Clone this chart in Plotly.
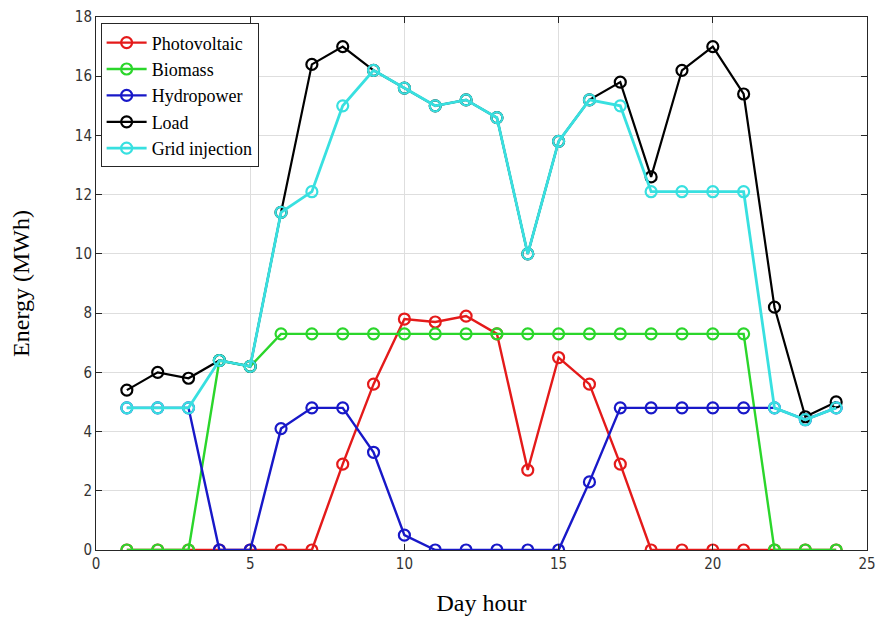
import plotly.graph_objects as go

hours = list(range(1, 25))
photovoltaic = [0, 0, 0, 0, 0, 0, 0, 2.9, 5.6, 7.8, 7.7, 7.9, 7.3, 2.7, 6.5, 5.6, 2.9, 0, 0, 0, 0, 0, 0, 0]
biomass = [0, 0, 0, 6.4, 6.2, 7.3, 7.3, 7.3, 7.3, 7.3, 7.3, 7.3, 7.3, 7.3, 7.3, 7.3, 7.3, 7.3, 7.3, 7.3, 7.3, 0, 0, 0]
hydropower = [4.8, 4.8, 4.8, 0, 0, 4.1, 4.8, 4.8, 3.3, 0.5, 0, 0, 0, 0, 0, 2.3, 4.8, 4.8, 4.8, 4.8, 4.8, 4.8, 4.4, 4.8]
load = [5.4, 6.0, 5.8, 6.4, 6.2, 11.4, 16.4, 17.0, 16.2, 15.6, 15.0, 15.2, 14.6, 10.0, 13.8, 15.2, 15.8, 12.6, 16.2, 17.0, 15.4, 8.2, 4.5, 5.0]
grid_injection = [4.8, 4.8, 4.8, 6.4, 6.2, 11.4, 12.1, 15.0, 16.2, 15.6, 15.0, 15.2, 14.6, 10.0, 13.8, 15.2, 15.0, 12.1, 12.1, 12.1, 12.1, 4.8, 4.4, 4.8]

series = [
    ("Photovoltaic", photovoltaic, "#e41a1a", 2.4),
    ("Biomass", biomass, "#2bd62b", 2.4),
    ("Hydropower", hydropower, "#1818c8", 2.4),
    ("Load", load, "#000000", 2.2),
    ("Grid injection", grid_injection, "#38e0e0", 2.8),
]

fig = go.Figure()
for name, vals, color, lw in series:
    fig.add_trace(go.Scatter(
        x=hours, y=vals, name=name, mode="lines+markers",
        line=dict(color=color, width=lw),
        marker=dict(symbol="circle-open", size=11, color=color, line=dict(width=2.2, color=color)),
    ))

axis_common = dict(
    showline=True, linecolor="#262626", linewidth=1, mirror="ticks",
    ticks="inside", ticklen=6, tickcolor="#262626",
    showgrid=True, gridcolor="#dedede", gridwidth=1, zeroline=False,
    tickfont=dict(family="DejaVu Sans Condensed, Liberation Sans Narrow, Arial Narrow", size=15, color="#333333"),
)

fig.update_layout(
    width=884, height=620,
    margin=dict(l=96, r=8, t=14, b=69),
    paper_bgcolor="white", plot_bgcolor="white",
    xaxis=dict(range=[0, 25], dtick=5, tick0=0,
               title=dict(text="Day hour", font=dict(family="Liberation Serif, Times New Roman", size=24, color="black"), standoff=22),
               **axis_common),
    yaxis=dict(range=[0, 18], dtick=2, tick0=0,
               title=dict(text="Energy (MWh)", font=dict(family="Liberation Serif, Times New Roman", size=24, color="black"), standoff=38),
               **axis_common),
    legend=dict(x=0.006, y=0.988, xanchor="left", yanchor="top",
                bgcolor="white", bordercolor="#262626", borderwidth=1,
                font=dict(family="Liberation Serif, Times New Roman", size=18, color="black"),
                tracegroupgap=0, itemwidth=40),
    showlegend=True,
)

fig.write_html("out.html")
